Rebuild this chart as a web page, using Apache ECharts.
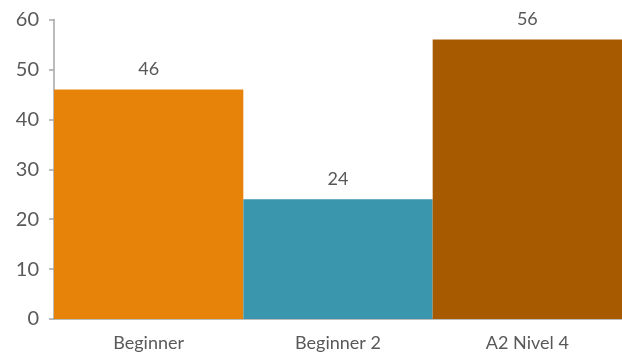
<!DOCTYPE html>
<html><head><meta charset="utf-8">
<script src="https://cdn.jsdelivr.net/npm/echarts@6/dist/echarts.min.js"></script>
<style>html,body{margin:0;padding:0;background:#fff}#c{width:622px;height:355px}</style>
</head><body><div id="c"></div>
<script>
const categories = ['Beginner', 'Beginner 2', 'A2 Nivel 4'];
const values = [46, 24, 56];
const colors = ['#E8830A', '#3A96AD', '#A85A00'];
const yTicks = [0, 10, 20, 30, 40, 50, 60];

const chart = echarts.init(document.getElementById('c'));
const font = 'Lato, "Open Sans", sans-serif';
chart.setOption({
  animation: false,
  grid: {left: 54, right: 0, top: 19.5, bottom: 36, containLabel: false},
  xAxis: {
    type: 'category', data: categories,
    axisLine: {lineStyle: {color: '#A6A6A6', width: 1.5}},
    axisTick: {show: false},
    axisLabel: {color: '#595959', fontSize: 18, fontFamily: font, margin: 15}
  },
  yAxis: {
    type: 'value', min: yTicks[0], max: yTicks[yTicks.length-1], interval: 10,
    axisLine: {show: true, lineStyle: {color: '#A6A6A6', width: 1.5}},
    axisTick: {show: true, length: 5, lineStyle: {color: '#A6A6A6', width: 1.5}},
    splitLine: {show: false},
    axisLabel: {color: '#595959', fontSize: 20, fontFamily: font, margin: 15}
  },
  series: [{
    type: 'bar',
    data: values.map((v, i) => ({value: v, itemStyle: {color: colors[i]}})),
    barCategoryGap: 0,
    label: {show: true, position: 'top', distance: 11, color: '#595959', fontSize: 18, fontFamily: font}
  }]
});
</script></body></html>
